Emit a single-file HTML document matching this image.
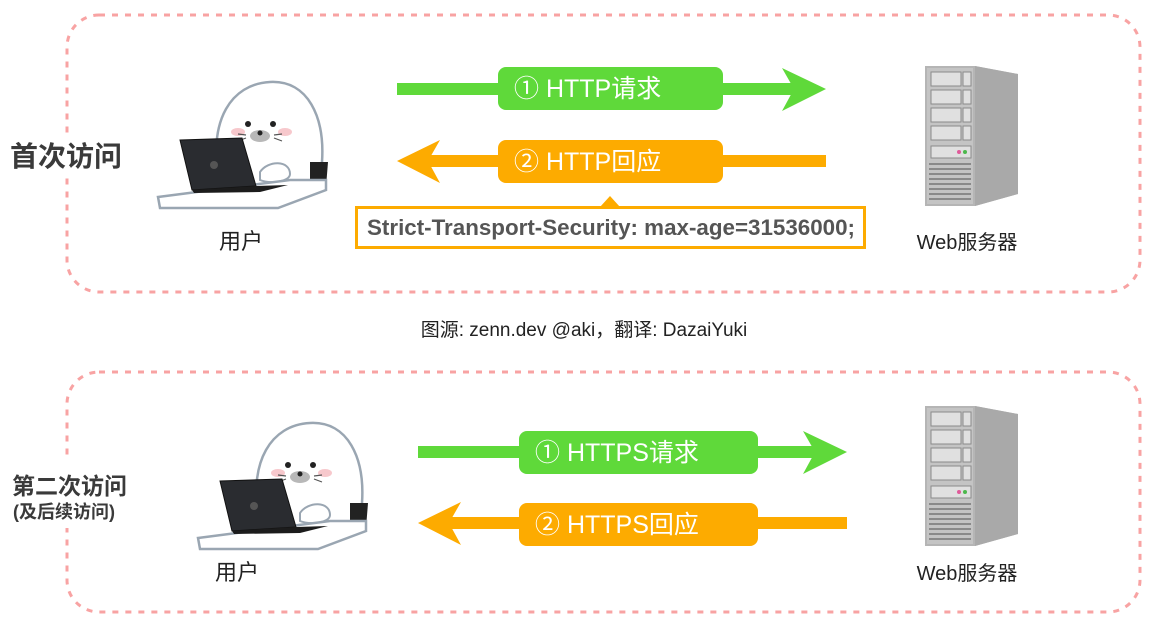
<!DOCTYPE html>
<html><head><meta charset="utf-8"><style>
html,body{margin:0;padding:0;background:#fff;}
svg{display:block;}
text{font-family:"Liberation Sans","Noto Sans CJK SC",sans-serif;}
</style></head><body>
<svg width="1166" height="623" viewBox="0 0 1166 623" xmlns="http://www.w3.org/2000/svg">
<defs>
<g id="seal">
  <path d="M68 110 C60 60 80 22 120 20 C158 18 175 55 172 100 L168 125 L80 125 Z" fill="#fff" stroke="#9aa6b2" stroke-width="2.5"/>
  <path d="M160 100 L178 100 L176 125 L160 125 Z" fill="#222"/>
  <ellipse cx="88" cy="70" rx="7" ry="4" fill="#f7c8cc"/>
  <ellipse cx="135" cy="70" rx="7" ry="4" fill="#f7c8cc"/>
  <circle cx="98" cy="62" r="3" fill="#222"/>
  <circle cx="123" cy="62" r="3" fill="#222"/>
  <ellipse cx="110" cy="74" rx="10" ry="6" fill="#b8b8b8"/>
  <circle cx="110" cy="71" r="2.5" fill="#222"/>
  <path d="M96 76 l-8 3 M124 76 l8 3 M96 73 l-8 -1 M124 73 l8 -1" stroke="#555" stroke-width="1.2"/>
  <path d="M110 110 C118 98 140 98 140 112 C140 120 120 122 110 118 Z" fill="#fff" stroke="#9aa6b2" stroke-width="2"/>
  <path d="M8 135 L140 118 L176 118 L176 128 L128 146 L10 146 Z" fill="#fff" stroke="#9aa6b2" stroke-width="2.5"/>
  <path d="M30 78 L92 76 L106 124 L42 128 Z" fill="#2a2c30" stroke="#111" stroke-width="1"/>
  <path d="M42 128 L106 124 L138 123 L110 130 L44 131 Z" fill="#1c1c1c"/>
  <circle cx="64" cy="103" r="4" fill="#555"/>
</g>
<g id="server">
  <path d="M0 0 L50 0 L93 8 L93 128 L50 140 L0 140 Z" fill="#b5b5b5"/>
  <path d="M50 0 L93 8 L93 128 L50 140 Z" fill="#a9a9a9"/>
  <rect x="2" y="2" width="46" height="136" fill="#c4c4c4"/>
  <g fill="#e0e0e0" stroke="#8a8a8a" stroke-width="1">
    <rect x="6" y="6" width="30" height="14"/><rect x="38" y="6" width="8" height="14"/>
    <rect x="6" y="24" width="30" height="14"/><rect x="38" y="24" width="8" height="14"/>
    <rect x="6" y="42" width="30" height="14"/><rect x="38" y="42" width="8" height="14"/>
    <rect x="6" y="60" width="30" height="14"/><rect x="38" y="60" width="8" height="14"/>
    <rect x="6" y="80" width="40" height="12"/>
  </g>
  <circle cx="34" cy="86" r="2" fill="#e05a9a"/><circle cx="40" cy="86" r="2" fill="#4cb84c"/>
  <g stroke="#8a8a8a" stroke-width="2">
    <line x1="4" y1="98" x2="46" y2="98"/><line x1="4" y1="103" x2="46" y2="103"/><line x1="4" y1="108" x2="46" y2="108"/>
    <line x1="4" y1="113" x2="46" y2="113"/><line x1="4" y1="118" x2="46" y2="118"/><line x1="4" y1="123" x2="46" y2="123"/>
    <line x1="4" y1="128" x2="46" y2="128"/><line x1="4" y1="133" x2="46" y2="133"/>
  </g>
</g>
</defs>

<rect x="67" y="15" width="1073" height="277" rx="32" fill="none" stroke="#f8a3a3" stroke-width="3" stroke-dasharray="6 7"/>
<rect x="0" y="133" width="135" height="44" fill="#fff"/>
<text x="10" y="166" font-size="28" font-weight="bold" fill="#3a3a3a">首次访问</text>

<use href="#seal" x="150" y="62"/>
<text x="241" y="249" font-size="22" fill="#222" text-anchor="middle">用户</text>

<use href="#server" x="925" y="66"/>
<text x="967" y="249" font-size="20" fill="#222" text-anchor="middle">Web服务器</text>

<rect x="397" y="83" width="400" height="12" fill="#5fd93a"/>
<polygon points="782,68 826,89 782,111 794,89" fill="#5fd93a"/>
<rect x="498" y="67" width="225" height="43" rx="8" fill="#5fd93a"/>
<text x="514" y="97" font-size="25" fill="#fff">① HTTP请求</text>

<rect x="426" y="155" width="400" height="12" fill="#fdab00"/>
<polygon points="440,140 397,161 440,183 428,161" fill="#fdab00"/>
<rect x="498" y="140" width="225" height="43" rx="8" fill="#fdab00"/>
<text x="514" y="170" font-size="25" fill="#fff">② HTTP回应</text>

<rect x="356.5" y="207.5" width="508" height="40" fill="#fff" stroke="#fdab00" stroke-width="3"/>
<polygon points="600,207 610,196 620,207" fill="#fdab00"/>
<text x="611" y="235" font-size="22" font-weight="bold" fill="#555" text-anchor="middle" textLength="488" lengthAdjust="spacingAndGlyphs">Strict-Transport-Security: max-age=31536000;</text>

<text x="584" y="336" font-size="19" fill="#222" text-anchor="middle">图源: zenn.dev @aki，翻译: DazaiYuki</text>

<rect x="67" y="372" width="1073" height="240" rx="32" fill="none" stroke="#f8a3a3" stroke-width="3" stroke-dasharray="6 7"/>
<rect x="0" y="458" width="140" height="70" fill="#fff"/>
<text x="12" y="494" font-size="23" font-weight="bold" fill="#3a3a3a">第二次访问</text>
<text x="13" y="518" font-size="18" font-weight="bold" fill="#3a3a3a">(及后续访问)</text>

<use href="#seal" x="190" y="403"/>
<text x="237" y="580" font-size="22" fill="#222" text-anchor="middle">用户</text>

<use href="#server" x="925" y="406"/>
<text x="967" y="580" font-size="20" fill="#222" text-anchor="middle">Web服务器</text>

<rect x="418" y="446" width="400" height="12" fill="#5fd93a"/>
<polygon points="803,431 847,452 803,474 815,452" fill="#5fd93a"/>
<rect x="519" y="431" width="239" height="43" rx="8" fill="#5fd93a"/>
<text x="535" y="461" font-size="25" fill="#fff">① HTTPS请求</text>

<rect x="447" y="517" width="400" height="12" fill="#fdab00"/>
<polygon points="461,502 418,523 461,545 449,523" fill="#fdab00"/>
<rect x="519" y="503" width="239" height="43" rx="8" fill="#fdab00"/>
<text x="535" y="533" font-size="25" fill="#fff">② HTTPS回应</text>
</svg>
</body></html>
